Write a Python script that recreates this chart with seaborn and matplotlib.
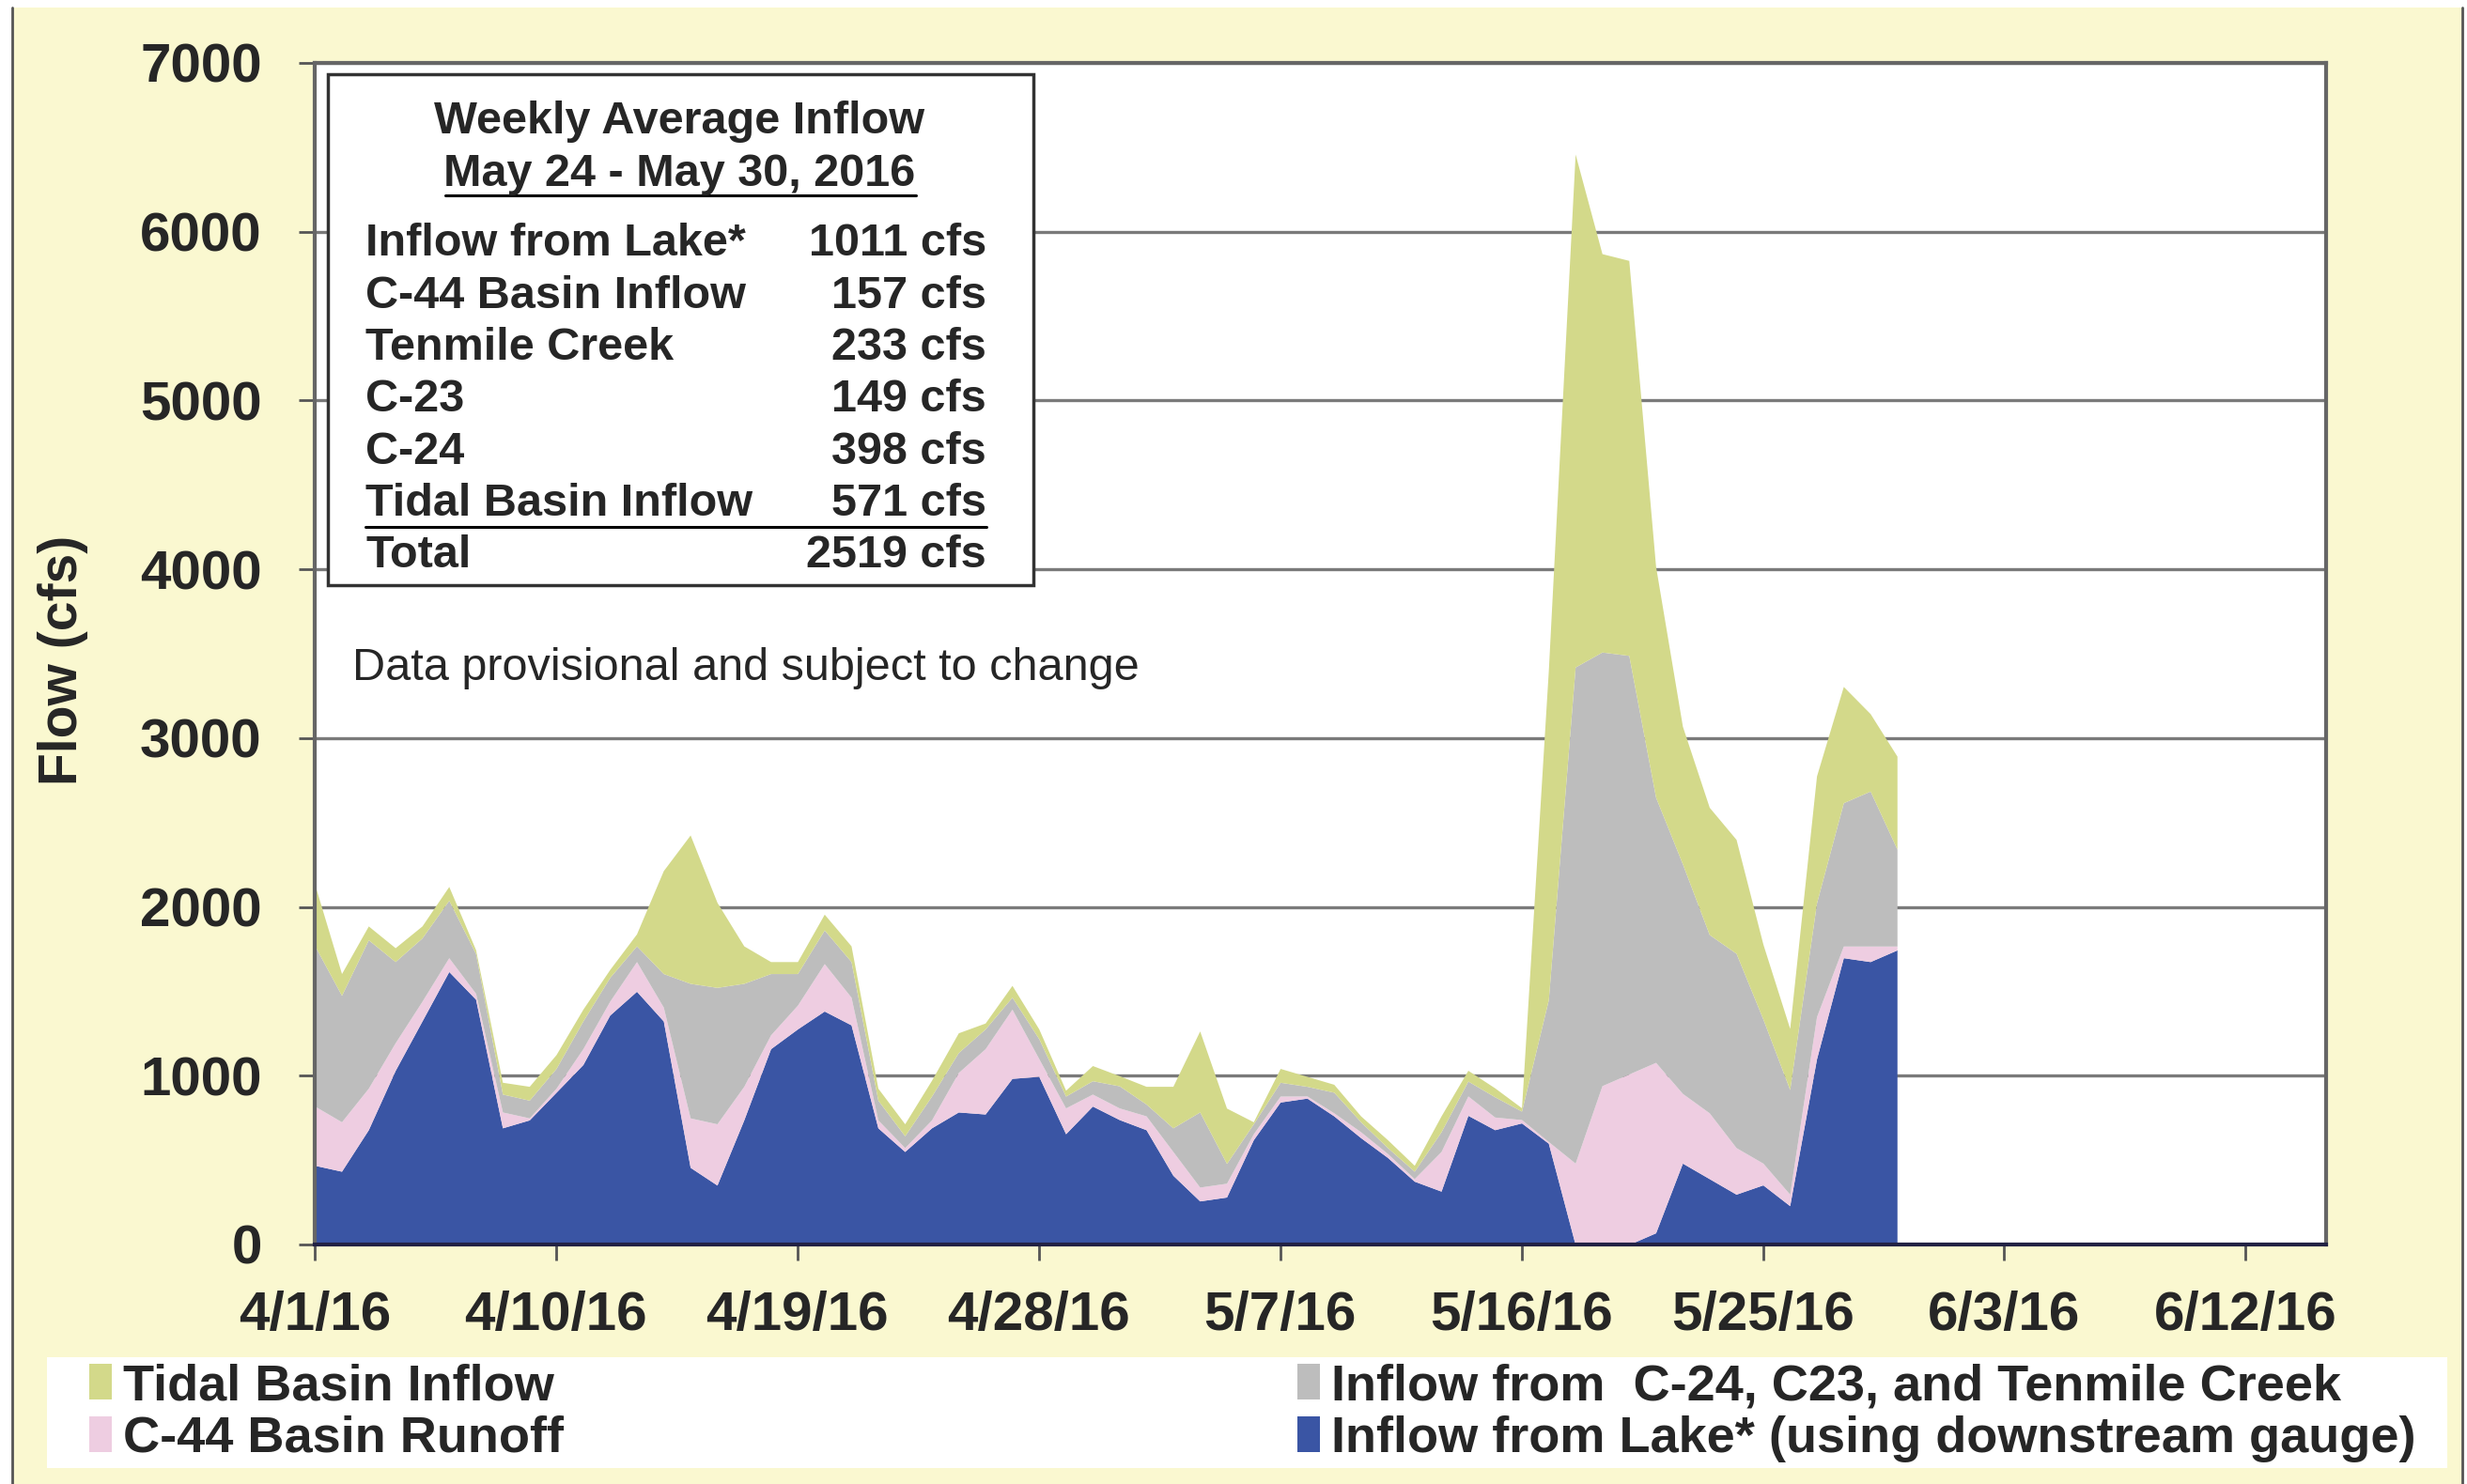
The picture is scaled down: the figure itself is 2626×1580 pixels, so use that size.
import matplotlib
matplotlib.use("Agg")
import matplotlib.pyplot as plt
from matplotlib.patches import Rectangle, Patch
from matplotlib.lines import Line2D
import pandas as pd
import seaborn as sns

# daily flows (cfs), 4/1/16 - 5/30/16
start_date = "2016-04-01"
lake = [469, 434, 680, 1031, 1324, 1617, 1453, 691, 738, 902,
        1066, 1359, 1500, 1324, 457, 352, 738, 1160, 1277, 1383,
        1301, 691, 551, 691, 785, 773, 984, 996, 656, 820,
        740, 680, 410, 258, 281, 621, 844, 867, 762, 633,
        516, 375, 316, 765, 680, 720, 600, 0, 0, 0,
        69, 482, 390, 298, 353, 230, 1100, 1699, 1676, 1745]
c44_runoff = [351, 293, 246, 164, 117, 82, 35, 94, 12, 24,
              94, 82, 176, 82, 293, 363, 199, 82, 141, 281,
              164, 47, 23, 47, 234, 387, 410, 105, 153, 71,
              69, 82, 141, 82, 82, 35, 35, 13, 18, 35,
              23, 15, 235, 115, 75, 20, 10, 482, 941, 1010,
              1010, 413, 390, 276, 129, 68, 250, 69, 92, 23]
basin_inflow = [950, 749, 879, 481, 375, 340, 235, 106, 105, 117,
                164, 141, 93, 199, 797, 808, 610, 363, 187, 199,
                211, 117, 70, 141, 118, 117, 71, 118, 70, 79,
                131, 70, 140, 445, 117, 59, 82, 57, 122, 59,
                35, 44, 117, 88, 120, 50, 840, 2939, 2569, 2480,
                1571, 1360, 1056, 1151, 854, 620, 674, 849, 918, 574]
tidal_inflow = [363, 129, 82, 82, 71, 82, 23, 70, 82, 82,
                70, 47, 71, 610, 879, 504, 222, 71, 71, 94,
                93, 71, 71, 94, 117, 35, 70, 58, 35, 90,
                60, 105, 246, 480, 328, 12, 82, 59, 47, 35,
                47, 35, 94, 64, 53, 20, 1950, 3039, 2360, 2340,
                1367, 815, 754, 675, 444, 362, 752, 689, 459, 551]

series_names = ["Inflow from Lake* (using downstream gauge)", "C-44 Basin Runoff",
                "Inflow from  C-24, C23, and Tenmile Creek", "Tidal Basin Inflow"]
series_colors = ["#3A55A4", "#EECDE1", "#BDBDBD", "#D3D98A"]

tick_dates = ["2016-04-01", "2016-04-10", "2016-04-19", "2016-04-28", "2016-05-07",
              "2016-05-16", "2016-05-25", "2016-06-03", "2016-06-12"]
tick_labels = ["4/1/16", "4/10/16", "4/19/16", "4/28/16", "5/7/16",
               "5/16/16", "5/25/16", "6/3/16", "6/12/16"]

summary_labels = ["Inflow from Lake*", "C-44 Basin Inflow", "Tenmile Creek",
                  "C-23", "C-24", "Tidal Basin Inflow", "Total"]
summary_values = ["1011 cfs", "157 cfs", "233 cfs", "149 cfs", "398 cfs", "571 cfs", "2519 cfs"]

df = pd.DataFrame({series_names[0]: lake, series_names[1]: c44_runoff,
                   series_names[2]: basin_inflow, series_names[3]: tidal_inflow},
                  index=pd.date_range(start_date, periods=len(lake), freq="D"))

sns.set_style("white")
plt.rcParams["font.family"] = ["Liberation Sans", "DejaVu Sans"]

W, H = 2626, 1580
def fx(px):
    return px / W
def fy(py):
    return 1 - py / H

fig = plt.figure(figsize=(W / 100, H / 100), dpi=100, facecolor="white")
fig.patches.append(Rectangle((fx(13), 0), fx(2621) - fx(13), 1 - 8 / H, transform=fig.transFigure,
                             facecolor="#FAF8D0", edgecolor="none", zorder=-10))
for xe in (13, 2621):
    fig.lines.append(Line2D([fx(xe), fx(xe)], [0, fy(8)], transform=fig.transFigure,
                            color="#555555", lw=2))

ax = fig.add_axes([fx(335), fy(1325), fx(2476) - fx(335), fy(67) - fy(1325)])
ax.set_facecolor("white")
ax.stackplot(df.index, df.T.values, colors=series_colors, labels=series_names,
             linewidth=0, zorder=2)

ax.set_xlim(pd.Timestamp("2016-04-01"), pd.Timestamp("2016-06-15"))
ax.set_ylim(0, 7000)
ax.set_yticks(range(0, 7001, 1000))
ax.set_xticks(pd.to_datetime(tick_dates))
ax.set_xticklabels(tick_labels)
ax.grid(axis="y", color="#7a7a7a", lw=2.4)
ax.grid(axis="x", visible=False)
ax.set_axisbelow(True)
for s in ax.spines.values():
    s.set_color("#666666")
    s.set_linewidth(3)
ax.spines["bottom"].set_color("#222244")
ax.tick_params(axis="both", direction="out", length=12.5, width=2, color="#555555",
               labelsize=42, bottom=True, left=True)
ax.tick_params(axis="y", pad=28)
ax.tick_params(axis="x", pad=23)
for lbl in ax.get_xticklabels() + ax.get_yticklabels():
    lbl.set_fontweight("bold")

fig.text(fx(67), fy(703), "Flow (cfs)", rotation=90, ha="center", va="center",
         fontsize=41, fontweight="bold")

# weekly summary box
fig.patches.append(Rectangle((fx(349), fy(623)), fx(1100) - fx(349), fy(79) - fy(623),
                             transform=fig.transFigure, facecolor="white",
                             edgecolor="#333333", lw=2.5, zorder=5))
fig.text(fx(723), fy(130), "Weekly Average Inflow", ha="center", va="center",
         fontsize=35, fontweight="bold", zorder=6)
fig.text(fx(723), fy(186), "May 24 - May 30, 2016", ha="center", va="center",
         fontsize=35, fontweight="bold", zorder=6)
fig.lines.append(Line2D([fx(474), fx(975)], [fy(208), fy(208)], transform=fig.transFigure,
                        color="black", lw=2.2, zorder=6))
for i, (lab, val) in enumerate(zip(summary_labels, summary_values)):
    yy = 260 + i * 55.3
    fig.text(fx(389), fy(yy), lab, ha="left", va="center", fontsize=35,
             fontweight="bold", zorder=6)
    fig.text(fx(1050), fy(yy), val, ha="right", va="center", fontsize=35,
             fontweight="bold", zorder=6)
fig.lines.append(Line2D([fx(389), fx(1050)], [fy(561), fy(561)], transform=fig.transFigure,
                        color="black", lw=2.2, zorder=6))

fig.text(fx(375), fy(712), "Data provisional and subject to change", ha="left", va="center",
         fontsize=35, zorder=6)

# legend strip
fig.patches.append(Rectangle((fx(50), fy(1563)), fx(2605) - fx(50), fy(1445) - fy(1563),
                             transform=fig.transFigure, facecolor="white",
                             edgecolor="none", zorder=1))
order = [3, 1, 2, 0]
handles = [Patch(facecolor=series_colors[i], edgecolor="none") for i in order]
labels = [series_names[i] for i in order]
fig.legend(handles, labels, ncol=2, mode="expand", loc="center",
           bbox_to_anchor=(fx(95), fy(1563), fx(2572) - fx(95), fy(1445) - fy(1563)),
           frameon=False, prop={"weight": "bold", "size": 39},
           handlelength=0.45, handleheight=0.7, handletextpad=0.22,
           labelspacing=0.11, borderpad=0, borderaxespad=0)

fig.savefig("out.png", dpi=100)
